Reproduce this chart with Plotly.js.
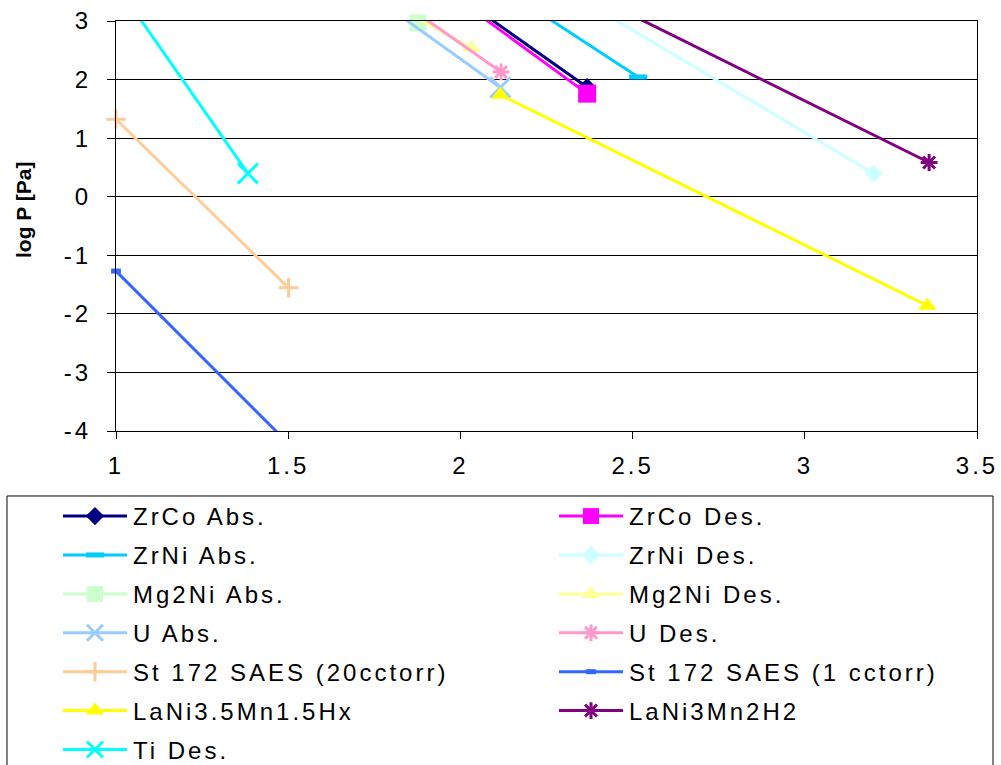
<!DOCTYPE html>
<html>
<head>
<meta charset="utf-8">
<script src="https://cdn.plot.ly/plotly-3.0.1.min.js"></script>
<style>
  html, body { margin: 0; padding: 0; background: #fff; }
  #chart { width: 1001px; height: 765px; }
</style>
</head>
<body>
<div id="chart"></div>
<script>
// Hydride equilibrium pressures: log P [Pa] against 1000/T
const zrCoAbsX = [1.975, 2.368];   const zrCoAbsY = [3.5, 1.87];
const zrCoDesX = [1.963, 2.368];   const zrCoDesY = [3.5, 1.76];
const zrNiAbsX = [2.137, 2.516];   const zrNiAbsY = [3.5, 2.045];
const zrNiDesX = [2.313, 3.200];   const zrNiDesY = [3.5, 0.397];
const mg2NiAbsX = [1.700, 1.877];  const mg2NiAbsY = [3.55, 2.966];
const mg2NiDesX = [1.737, 2.032];  const mg2NiDesY = [3.5, 2.539];
const uAbsX = [1.728, 2.116];      const uAbsY = [3.5, 1.864];
const uDesX = [1.786, 2.118];      const uDesY = [3.5, 2.13];
const st172HighX = [1.0, 1.501];   const st172HighY = [1.323, -1.555];
const st172LowX = [1.0, 1.5];      const st172LowY = [-1.27, -4.21];
const laNi35X = [2.116, 3.356];    const laNi35Y = [1.74, -1.86];
const laNi3X = [2.361, 3.361];     const laNi3Y = [3.5, 0.584];
const tiDesX = [1.015, 1.383];     const tiDesY = [3.5, 0.397];

const seriesNames = [
  'ZrCo Abs.', 'ZrCo Des.', 'ZrNi Abs.', 'ZrNi Des.', 'Mg2Ni Abs.', 'Mg2Ni Des.',
  'U Abs.', 'U Des.', 'St 172 SAES (20cctorr)', 'St 172 SAES (1 cctorr)',
  'LaNi3.5Mn1.5Hx', 'LaNi3Mn2H2', 'Ti Des.'
];
const seriesX = [zrCoAbsX, zrCoDesX, zrNiAbsX, zrNiDesX, mg2NiAbsX, mg2NiDesX,
  uAbsX, uDesX, st172HighX, st172LowX, laNi35X, laNi3X, tiDesX];
const seriesY = [zrCoAbsY, zrCoDesY, zrNiAbsY, zrNiDesY, mg2NiAbsY, mg2NiDesY,
  uAbsY, uDesY, st172HighY, st172LowY, laNi35Y, laNi3Y, tiDesY];

const xTickVals = [1, 1.5, 2, 2.5, 3, 3.5];
const xTickText = ['1', '1.5', '2', '2.5', '3', '3.5'];
const yTickVals = [-4, -3, -2, -1, 0, 1, 2, 3];
const yTickText = ['-4', '-3', '-2', '-1', '0', '1', '2', '3'];

// line colour, marker symbol, marker size, outline width (open symbols)
const styles = [
  ['#000080', 'diamond', 14, 0],
  ['#FF00FF', 'square', 18, 0],
  ['#00CCFF', 'line-ew-open', 13, 5],
  ['#CCFFFF', 'diamond', 14, 0],
  ['#CCFFCC', 'square', 17, 0],
  ['#FFFF99', 'triangle-up', 16, 0],
  ['#99CCFF', 'x-thin-open', 20, 3],
  ['#FF99CC', 'asterisk-open', 14, 3],
  ['#FFCC99', 'cross-thin-open', 14, 3],
  ['#3366FF', 'line-ew-open', 7, 5],
  ['#FFFF00', 'triangle-up', 16, 0],
  ['#800080', 'asterisk-open', 14, 3],
  ['#00FFFF', 'x-thin-open', 20, 3]
];

const traces = seriesNames.map((name, i) => {
  const [color, symbol, size, lw] = styles[i];
  return {
    type: 'scatter',
    mode: 'lines+markers',
    name: name,
    x: seriesX[i],
    y: seriesY[i],
    line: { color: color, width: 3 },
    marker: { color: color, symbol: symbol, size: size, line: { color: color, width: lw } },
    cliponaxis: false,
    legend: i % 2 === 0 ? 'legend' : 'legend2',
    legendgroup: 'g' + i,
    hoverinfo: 'x+y+name'
  };
});

const legendBase = {
  yanchor: 'top', xanchor: 'left', orientation: 'v',
  traceorder: 'grouped', tracegroupgap: 4.7, itemwidth: 65,
  font: { family: 'Liberation Sans, Arial, sans-serif', size: 24, color: '#000' },
  bgcolor: 'rgba(0,0,0,0)', borderwidth: 0
};

const layout = {
  width: 1001, height: 765,
  margin: { l: 116, r: 24, t: 21, b: 334, pad: 0, autoexpand: false },
  paper_bgcolor: '#fff', plot_bgcolor: '#fff',
  font: { family: 'Liberation Sans, Arial, sans-serif', size: 24, color: '#000' },
  xaxis: {
    range: [1, 3.5], tickmode: 'array', tickvals: xTickVals, ticktext: xTickText,
    showgrid: false, zeroline: false, showline: true, linecolor: '#000', linewidth: 1,
    mirror: true, ticks: 'outside', ticklen: 7, tickcolor: '#000', ticklabelstandoff: 6
  },
  yaxis: {
    range: [-4, 3], tickmode: 'array', tickvals: yTickVals, ticktext: yTickText,
    showgrid: true, gridcolor: '#000', gridwidth: 1, zeroline: false,
    showline: true, linecolor: '#000', linewidth: 1, mirror: true,
    ticks: 'outside', ticklen: 8, tickcolor: '#000', ticklabelstandoff: 11
  },
  showlegend: true,
  legend: Object.assign({ x: -0.0674, y: -0.1536 }, legendBase),
  legend2: Object.assign({ x: 0.5087, y: -0.1536 }, legendBase),
  shapes: [{
    type: 'rect', xref: 'paper', yref: 'paper',
    x0: -0.1266, x1: 1.0186, y0: -0.1585, y1: -0.9,
    line: { color: '#000', width: 1 }, fillcolor: 'rgba(0,0,0,0)', layer: 'below'
  }],
  annotations: [{
    text: '<b>log P [Pa]</b>', xref: 'paper', yref: 'paper',
    x: -0.108, y: 0.539, xanchor: 'center', yanchor: 'middle',
    textangle: -90, showarrow: false,
    font: { family: 'Liberation Sans, Arial, sans-serif', size: 21, color: '#000' }
  }]
};

const gd = document.getElementById('chart');

function spaceOut(t) {
  t.style.letterSpacing = '3px';
  t.setAttribute('letter-spacing', '3');
}

// Longer legend sample lines, markers centred on them, and spaced-out lettering
// on tick labels and legend entries (the axis title keeps normal spacing)
function finishStyling() {
  gd.querySelectorAll('.legendlines path').forEach(p => p.setAttribute('d', 'M5,0h64'));
  gd.querySelectorAll('.legendpoints path').forEach(p => p.setAttribute('transform', 'translate(37,0)'));
  gd.querySelectorAll('text').forEach(t => {
    if (!t.closest('.annotation')) spaceOut(t);
  });
  gd.querySelectorAll('.scrollbox').forEach(s => s.removeAttribute('clip-path'));
}

Plotly.newPlot(gd, traces, layout, { displayModeBar: false, staticPlot: true }).then(() => {
  finishStyling();
  gd.on('plotly_afterplot', finishStyling);
  setTimeout(finishStyling, 200);
});
</script>
</body>
</html>
